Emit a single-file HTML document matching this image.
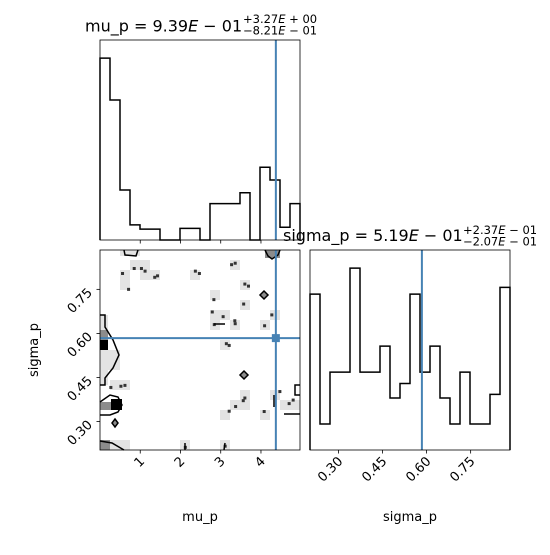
<!DOCTYPE html>
<html><head><meta charset="utf-8"><style>
body{margin:0;background:#fff}
svg text{font-family:"DejaVu Sans","Liberation Sans",sans-serif;fill:#000}
</style></head><body>
<svg id="fig" width="550" height="550" xmlns="http://www.w3.org/2000/svg">
<rect width="550" height="550" fill="#fff"/>
<g id="g2d"></g>
<g id="ghm"></g>
<g id="ghs"></g>
<g>
<text x="85" y="31.5" font-size="16">mu_p = 9.39<tspan font-style="italic">E</tspan> − 01</text>
<text x="243" y="23" font-size="11.5">+3.27<tspan font-style="italic">E</tspan> + 00</text>
<text x="243" y="34.5" font-size="11.5">−8.21<tspan font-style="italic">E</tspan> − 01</text>
</g>
<g>
<text x="283" y="241" font-size="16">sigma_p = 5.19<tspan font-style="italic">E</tspan> − 01</text>
<text x="463" y="234" font-size="11.5">+2.37<tspan font-style="italic">E</tspan> − 01</text>
<text x="463" y="245.5" font-size="11.5">−2.07<tspan font-style="italic">E</tspan> − 01</text>
</g>
<text x="200" y="521" font-size="13" text-anchor="middle">mu_p</text>
<text x="410" y="521" font-size="13" text-anchor="middle">sigma_p</text>
<text x="0" y="0" font-size="13" text-anchor="middle" transform="translate(38,350) rotate(-90)">sigma_p</text>
</svg>
<script>
const muCounts=[100,77,27.5,8.3,6,6,0,0,6.4,6.4,0,20,20,20,26,0,40,33,7,20];
const sigCounts=[6,1,3,3,7,3,3,4,2,2.56,6,3,4,2,1,3,1,1,2.14,6.26];
const muTicks=[1,2,3,4];
const sigTicks=[0.30,0.45,0.60,0.75];
const sigTickLabels=["0.30","0.45","0.60","0.75"];
const truthMu=4.37, truthSig=0.584;
const samplesMu=[0.56,0.85,1.03,1.12,1.43,1.36,0.71,2.37,2.47,3.27,3.36,3.69,3.6,2.83,3.57,2.79,3.06,3.35,3.36,4.27,2.84,4.09,3.14,3.21,0.52,0.62,0.27,4.47,3.6,3.56,4.08,3.37,3.21,4.7,4.8,2.12,3.11];
const samplesSig=[0.804,0.821,0.821,0.812,0.796,0.791,0.750,0.812,0.804,0.834,0.839,0.761,0.768,0.715,0.700,0.673,0.657,0.643,0.633,0.663,0.630,0.626,0.565,0.559,0.420,0.423,0.416,0.402,0.380,0.371,0.334,0.351,0.335,0.361,0.373,0.212,0.216];
const muDom=[0.0,4.97], sigDom=[0.203,0.884];
const NS="http://www.w3.org/2000/svg";
function mk(p,t,a){const e=document.createElementNS(NS,t);for(const k in a)e.setAttribute(k,a[k]);p.appendChild(e);return e;}
function xMu(v){return 100+(v-muDom[0])/(muDom[1]-muDom[0])*200;}
function xSig(v){return 310+(v-sigDom[0])/(sigDom[1]-sigDom[0])*200;}
function ySig(v){return 450-(v-sigDom[0])/(sigDom[1]-sigDom[0])*200;}
const ghm=document.getElementById('ghm');
(function(){const mx=Math.max(...muCounts)*1.1;const y=c=>240-c/mx*200;let d="M100,240";
muCounts.forEach((c,i)=>{d+=" L"+(100+i*10)+","+y(c)+" L"+(110+i*10)+","+y(c);});d+=" L300,240";
const p=mk(ghm,'path',{d:d,fill:'none',stroke:'#000','stroke-width':1.5});


const l=mk(ghm,'line',{x1:xMu(truthMu),x2:xMu(truthMu),y1:40,y2:240,stroke:'#4682b4','stroke-width':2});


muTicks.forEach(t=>{const tk=mk(ghm,'line',{x1:xMu(t),x2:xMu(t),y1:240,y2:243.5,stroke:'#000','stroke-width':0.8});

});
mk(ghm,'rect',{x:100,y:40,width:200,height:200,fill:'none',stroke:'#000','stroke-width':0.8});})();
const ghs=document.getElementById('ghs');
(function(){const mx=Math.max(...sigCounts)*1.1;const y=c=>450-c/mx*200;let d="M310,450";
sigCounts.forEach((c,i)=>{d+=" L"+(310+i*10)+","+y(c)+" L"+(320+i*10)+","+y(c);});d+=" L510,450";
const p=mk(ghs,'path',{d:d,fill:'none',stroke:'#000','stroke-width':1.5});


const l=mk(ghs,'line',{x1:xSig(truthSig),x2:xSig(truthSig),y1:250,y2:450,stroke:'#4682b4','stroke-width':2});


sigTicks.forEach((t,i)=>{const x=xSig(t);mk(ghs,'line',{x1:x,x2:x,y1:450,y2:453.5,stroke:'#000','stroke-width':0.8});
const tx=mk(ghs,'text',{x:0,y:0,'font-size':13,'text-anchor':'end',transform:`translate(${x+5},${462}) rotate(-45)`});tx.textContent=sigTickLabels[i];

});
mk(ghs,'rect',{x:310,y:250,width:200,height:200,fill:'none',stroke:'#000','stroke-width':0.8});})();
const g=document.getElementById('g2d');
(function(){
samplesMu.forEach((m,i)=>{const x=xMu(m),y=ySig(samplesSig[i]);const cx=100+Math.floor((x-100)/10)*10,cy=250+Math.floor((y-250)/10)*10;
const c=mk(g,'rect',{x:cx,y:cy,width:10,height:10,fill:'#e3e3e3'});

});
[[100,315,8,70,'#e3e3e3'],[108,350,12,20,'#e3e3e3'],[100,330,8,10,'#8c8c8c'],[100,340,8,10,'#000'],[100,402,11,8,'#8c8c8c'],[111,399,11,11,'#000'],[100,440,10,10,'#8c8c8c'],[110,440,20,10,'#e3e3e3'],[265,250,15,8,'#8c8c8c'],[120,250,20,6,'#e3e3e3']].forEach(r=>{mk(g,'rect',{x:r[0],y:r[1],width:r[2],height:r[3],fill:r[4]});});
samplesMu.forEach((m,i)=>{const d=mk(g,'rect',{x:xMu(m)-1.5,y:ySig(samplesSig[i])-1.5,width:3,height:3,fill:'#333'});

});
const cs=[["M100,315 L105,315 L105,327 L113,340 L119,355 L113,368 L105,378 L105,385 L100,385",'none'],
["M100,402 L110,395 L118,397 L122,405 L118,412 L110,415 L100,415",'none'],
["M115,419 L118,423 L115,427 L112,423 Z",'#8c8c8c'],["M264,291 L268,295 L264,299 L260,295 Z",'#8c8c8c'],["M244,371 L248,375 L244,379 L240,375 Z",'#8c8c8c'],
["M100,441 L112,443 L124,450",'none'],["M124,250 L125,255 L136,256 L138,250",'none'],["M265,250 L268,256 L272,259 L278,255 L280,250",'none'],
["M300,385 L295,385 L295,395 L300,395",'none'],["M214,324 L225,324",'none'],["M284,414 L300,414",'none'],["M274,395 L274,407",'none'],["M185,443 L185,450",'none'],["M225,443 L224,450",'none']];
cs.forEach(c=>{const p=mk(g,'path',{d:c[0],fill:c[1],stroke:'#000','stroke-width':1.5});

});
const lv=mk(g,'line',{x1:xMu(truthMu),x2:xMu(truthMu),y1:250,y2:450,stroke:'#4682b4','stroke-width':2});


const lh=mk(g,'line',{x1:100,x2:300,y1:ySig(truthSig),y2:ySig(truthSig),stroke:'#4682b4','stroke-width':2});


const mkr=mk(g,'rect',{x:xMu(truthMu)-4,y:ySig(truthSig)-4,width:8,height:8,fill:'#4682b4'});


muTicks.forEach(t=>{const x=xMu(t);mk(g,'line',{x1:x,x2:x,y1:450,y2:453.5,stroke:'#000','stroke-width':0.8});
const tx=mk(g,'text',{x:0,y:0,'font-size':13,'text-anchor':'end',transform:`translate(${x+5},${462}) rotate(-45)`});tx.textContent=String(t);

});
sigTicks.forEach((t,i)=>{const y=ySig(t);mk(g,'line',{x1:96.5,x2:100,y1:y,y2:y,stroke:'#000','stroke-width':0.8});
const tx=mk(g,'text',{x:0,y:0,'font-size':13,'text-anchor':'end',transform:`translate(${93},${y+4}) rotate(-45)`});tx.textContent=sigTickLabels[i];

});
mk(g,'rect',{x:100,y:250,width:200,height:200,fill:'none',stroke:'#000','stroke-width':0.8});
})();
</script>
</body></html>
